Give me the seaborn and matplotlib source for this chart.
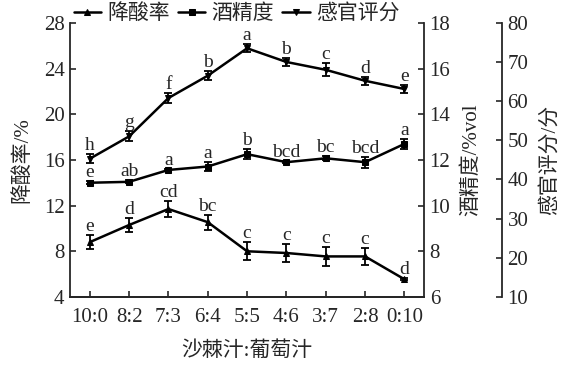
import numpy as np
import seaborn as sns
import matplotlib.pyplot as plt

sns.set_style("ticks")
plt.rcParams['font.family'] = ['Liberation Serif', 'Noto Sans CJK SC']
plt.rcParams['axes.unicode_minus'] = False

# Data
ratios = ['10:0', '8:2', '7:3', '6:4', '5:5', '4:6', '3:7', '2:8', '0:10']

acid = [8.8, 10.3, 11.7, 10.55, 8.0, 7.85, 7.55, 7.55, 5.55]
acid_err = [0.6, 0.65, 0.7, 0.65, 0.8, 0.75, 0.8, 0.75, 0.1]
acid_sig = ['e', 'd', 'cd', 'bc', 'c', 'c', 'c', 'c', 'd']

alcohol = [11.0, 11.04, 11.56, 11.71, 12.25, 11.9, 12.07, 11.9, 12.7]
alcohol_err = [0.06, 0.06, 0.06, 0.18, 0.23, 0.05, 0.08, 0.24, 0.22]
alcohol_sig = ['e', 'ab', 'a', 'a', 'b', 'bcd', 'bc', 'bcd', 'a']

sensory = [45.3, 51.0, 60.8, 66.5, 73.5, 70.0, 68.0, 65.2, 63.1]
sensory_err = [1.15, 1.3, 1.2, 1.15, 1.0, 1.0, 1.7, 1.0, 1.1]
sensory_sig = ['h', 'g', 'f', 'b', 'a', 'b', 'c', 'd', 'e']

x = np.arange(len(ratios))
fs = 15

fig = plt.figure(figsize=(5.7, 3.68), dpi=100)
ax1 = fig.add_axes([0.123, 0.193, 0.621, 0.745])
ax2 = ax1.twinx()
ax3 = ax1.twinx()
ax3.spines['right'].set_position(('axes', 1.22))


def draw(ax, y, err, sig, marker, label):
    sns.lineplot(x=x, y=y, ax=ax, color='black', lw=1.8, marker=marker,
                 markersize=5, markeredgecolor='black', label=label, legend=False)
    ax.errorbar(x, y, yerr=err, fmt='none', ecolor='black', elinewidth=1.3,
                capsize=3, capthick=1.3)
    for xi, yi, ei, s in zip(x, y, err, sig):
        ax.annotate(s, (xi, yi + ei), xytext=(0, 0), textcoords='offset points',
                    ha='center', va='bottom', fontsize=fs - 1)


draw(ax1, acid, acid_err, acid_sig, '^', '降酸率')
draw(ax2, alcohol, alcohol_err, alcohol_sig, 's', '酒精度')
draw(ax3, sensory, sensory_err, sensory_sig, 'v', '感官评分')

ax1.set_xlim(-0.5, 8.5)
ax1.set_xticks(x)
ax1.set_xticklabels(ratios)
ax1.set_ylim(4, 28)
ax1.set_yticks(np.arange(4, 29, 4))
ax2.set_ylim(6, 18)
ax2.set_yticks(np.arange(6, 19, 2))
ax3.set_ylim(10, 80)
ax3.set_yticks(np.arange(10, 81, 10))

ax1.set_xlabel('沙棘汁:葡萄汁', fontsize=fs, labelpad=10)
ax1.set_ylabel('降酸率/%', fontsize=fs, labelpad=8)
ax2.set_ylabel('酒精度/%vol', fontsize=fs, labelpad=8)
ax3.set_ylabel('感官评分/分', fontsize=fs, labelpad=8)

for ax in (ax1, ax2, ax3):
    ax.spines['top'].set_visible(False)
    ax.tick_params(direction='in', length=4, width=1.2, labelsize=fs, pad=4)
    for sp in ax.spines.values():
        sp.set_linewidth(1.3)
ax1.spines['right'].set_visible(False)
ax2.spines['left'].set_visible(False)
ax3.spines['left'].set_visible(False)
ax1.tick_params(axis='x', pad=8)

handles = []
labels = []
for ax in (ax1, ax2, ax3):
    h, l = ax.get_legend_handles_labels()
    handles += h
    labels += l
fig.legend(handles, labels, loc='center', bbox_to_anchor=(0.415, 0.962), ncol=3,
           frameon=False, fontsize=fs, handlelength=1.3, handletextpad=0.3,
           columnspacing=0.4, borderpad=0)

fig.savefig('out.png', dpi=100)
